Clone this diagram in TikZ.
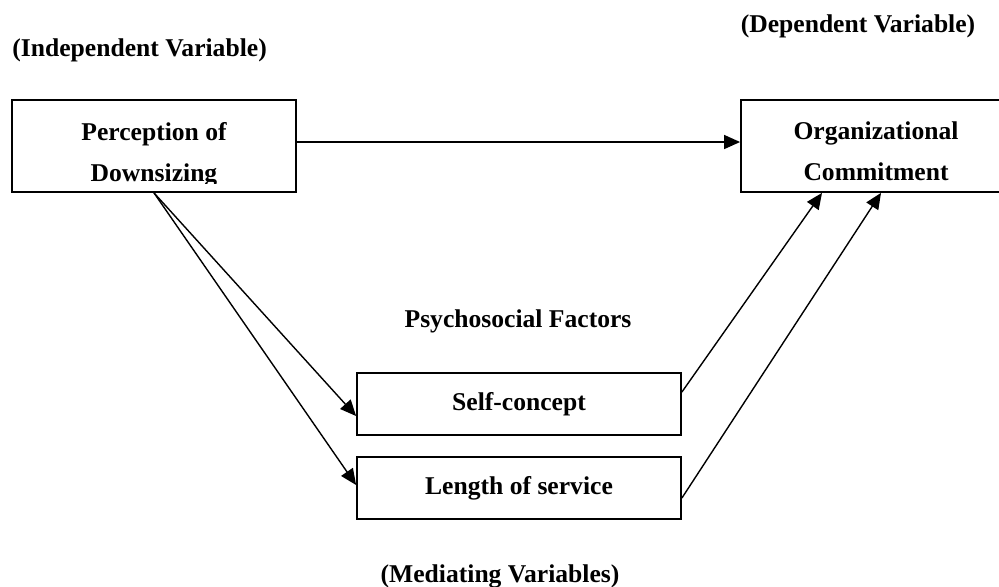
\documentclass[tikz,border=0pt]{standalone}
\usepackage{fontspec}
\setmainfont{Liberation Serif}
\usetikzlibrary{arrows.meta}

\begin{document}
\begin{tikzpicture}[x=0.5pt,y=-0.5pt,
  every node/.style={font=\bfseries\fontsize{12.8pt}{20.5pt}\selectfont},
  box/.style={draw,line width=0.9pt,minimum height=46pt,inner sep=0pt},
  smallbox/.style={box,minimum width=162pt,minimum height=31pt},
  txt/.style={align=center,inner sep=0pt},
  arr/.style={-{Triangle[length=8pt,width=7pt]},line width=0.7pt}]
  \useasboundingbox (0,0) rectangle (999,586);
  % boxes
  \node[box,minimum width=142pt] (perc) at (154,146) {};
  \node[box,minimum width=135pt] (comm) at (876,146) {};
  \node[smallbox] (self) at (519,404) {Self-concept};
  \node[smallbox] (serv) at (519,488) {Length of service};
  \begin{scope}
    \clip (perc.north west) rectangle ([yshift=4.5pt]perc.south east);
    \node[txt,yshift=-4.2pt] (perctext) at (perc) {Perception of\\Downsizing};
  \end{scope}
  \node[txt,yshift=-2.6pt] (commtext) at (comm) {Organizational\\Commitment};
  % headings
  \node[anchor=base west,inner sep=0pt] (indep) at (12,56) {(Independent Variable)};
  \node[anchor=base,inner sep=0pt] (dep) at (858,32) {(Dependent Variable)};
  \node[anchor=base,inner sep=0pt] (psych) at (518,327) {Psychosocial Factors};
  \node[anchor=base,inner sep=0pt] (med) at (500,582) {(Mediating Variables)};
  % arrows
  \path[arr]
    ([yshift=2pt]perc.east) edge ([yshift=2pt]comm.west)
    (perc.south) edge ([yshift=-6pt]self.west)
                 edge ([yshift=1.5pt]serv.west)
    ([yshift=6pt]self.east) edge ([xshift=-27pt]comm.south)
    ([yshift=-5pt]serv.east) edge ([xshift=2.5pt]comm.south);
\end{tikzpicture}
\end{document}
